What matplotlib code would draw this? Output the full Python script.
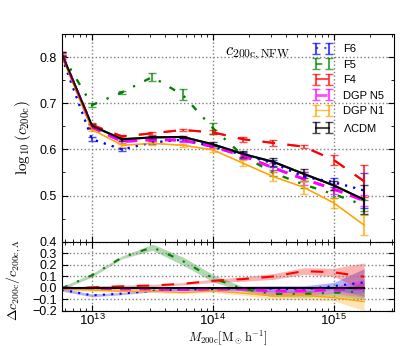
import numpy as np
import matplotlib
matplotlib.use("Agg")
import matplotlib.pyplot as plt
from matplotlib.ticker import MultipleLocator, LogLocator, NullFormatter

plt.rcParams['font.family'] = ['Liberation Sans', 'DejaVu Sans']
plt.rcParams['mathtext.fontset'] = 'custom'
plt.rcParams['mathtext.rm'] = 'Liberation Sans'
plt.rcParams['mathtext.it'] = 'Liberation Sans:italic'
plt.rcParams['mathtext.bf'] = 'Liberation Sans:bold'

# log10 of halo mass bin centres
logM = [12.75, 13.0, 13.25, 13.5, 13.75, 14.0, 14.25, 14.5, 14.75, 15.0, 15.25]

labels = ["F6", "F5", "F4", "DGP N5", "DGP N1", r"$\Lambda$CDM"]

f6 = [0.800, 0.622, 0.600, 0.615, 0.621, 0.606, 0.588, 0.570, 0.541, 0.529, 0.511]
f5 = [0.806, 0.696, 0.724, 0.757, 0.718, 0.646, 0.586, 0.549, 0.524, 0.503, 0.479]
f4 = [0.804, 0.653, 0.628, 0.635, 0.642, 0.637, 0.622, 0.614, 0.606, 0.577, 0.531]
n5 = [0.807, 0.648, 0.617, 0.621, 0.620, 0.606, 0.586, 0.560, 0.536, 0.514, 0.489]
n1 = [0.803, 0.643, 0.609, 0.613, 0.609, 0.599, 0.570, 0.541, 0.518, 0.484, 0.436]
lcdm = [0.807, 0.651, 0.622, 0.626, 0.627, 0.611, 0.590, 0.573, 0.547, 0.522, 0.491]

f6_err = [0.004, 0.004, 0.003, 0.003, 0.003, 0.004, 0.006, 0.008, 0.010, 0.010, 0.038]
f5_err = [0.004, 0.004, 0.003, 0.008, 0.012, 0.012, 0.006, 0.007, 0.008, 0.008, 0.012]
f4_err = [0.004, 0.004, 0.003, 0.003, 0.003, 0.004, 0.005, 0.006, 0.004, 0.010, 0.035]
n5_err = [0.004, 0.004, 0.003, 0.003, 0.003, 0.004, 0.006, 0.010, 0.014, 0.010, 0.012]
n1_err = [0.004, 0.004, 0.003, 0.003, 0.003, 0.004, 0.006, 0.010, 0.014, 0.010, 0.021]
lcdm_err = [0.004, 0.004, 0.003, 0.003, 0.003, 0.004, 0.006, 0.008, 0.010, 0.009, 0.032]

series = [f6, f5, f4, n5, n1, lcdm]
errors = [f6_err, f5_err, f4_err, n5_err, n1_err, lcdm_err]
colors = ['blue', 'green', 'red', 'magenta', 'orange', 'black']
styles = [(0, (1, 3)), (0, (3, 5, 1, 5)), (0, (6, 6)), (0, (4, 3)), '-', '-']
widths = [1.5, 1.5, 1.5, 2.0, 1.0, 1.5]

M = 10 ** np.array(logM)

fig = plt.figure(figsize=(4.15, 3.46), dpi=100)
ax1 = fig.add_axes([0.1494, 0.3014, 0.7996, 0.6003])
ax2 = fig.add_axes([0.1494, 0.1012, 0.7996, 0.2002])

for s, e, c, ls, lw, lab in zip(series, errors, colors, styles, widths, labels):
    ax1.errorbar(M, s, yerr=e, color=c, ls=ls, lw=lw, capsize=3, elinewidth=1.5,
                 capthick=1, alpha=0.7, label=lab)
    ax1.plot(M, s, color=c, ls=ls, lw=lw)

lc = np.array(lcdm)
le = np.array(lcdm_err)
for s, e, c, ls, lw in zip(series, errors, colors, styles, widths):
    s = np.array(s); e = np.array(e)
    ratio = 10 ** (s - lc)
    d = ratio - 1
    if c == 'black':
        ax2.plot(M, d, color=c, ls=ls, lw=lw)
        continue
    band = ratio * np.log(10) * np.sqrt(e ** 2 + le ** 2)
    ax2.fill_between(M, d - band, d + band, color=c, alpha=0.3, lw=0)
    ax2.plot(M, d, color=c, ls=ls, lw=lw)

xl = (10 ** 12.752, 10 ** 15.496)
for ax in (ax1, ax2):
    ax.set_xscale('log')
    ax.set_xlim(*xl)
    ax.tick_params(which='both', direction='in', top=True, right=True, labelsize=9)
    ax.tick_params(which='major', length=4)
    ax.tick_params(which='minor', length=2)
    ax.grid(True, which='major', ls=':', color='grey', lw=1)
    ax.xaxis.set_minor_locator(LogLocator(base=10, subs=np.arange(2, 10), numticks=20))
    ax.xaxis.set_minor_formatter(NullFormatter())
ax2.tick_params(axis='x', which='major', labelsize=9.5, pad=1.5)

ax1.set_ylim(0.4, 0.85)
ax1.yaxis.set_minor_locator(MultipleLocator(0.05))
ax1.set_yticks([0.5, 0.6, 0.7, 0.8])
ax1.tick_params(axis='x', labelbottom=False)
ax1.set_ylabel(r'$\log_{10}(c_{\rm 200c})$', fontsize=11, math_fontfamily='cm')
ax1.yaxis.set_label_coords(-0.088, 0.5)

ax2.set_ylim(-0.2, 0.4)
ax2.yaxis.set_major_locator(MultipleLocator(0.1))
ax2.set_ylabel(r'$\Delta c_{\rm 200c}/c_{\rm 200c,\Lambda}$', fontsize=10, math_fontfamily='cm')
ax2.yaxis.set_label_coords(-0.118, 0.45)
ax2.set_xlabel(r'$M_{\rm 200c}[{\rm M_\odot h^{-1}}]$', fontsize=9, math_fontfamily='cm')
ax2.xaxis.set_label_coords(0.5, -0.255)

ax1.text(0.49, 0.9, r'$c_{\rm 200c,NFW}$', transform=ax1.transAxes, fontsize=12,
         math_fontfamily='cm')
ax1.legend(loc='upper right', frameon=False, fontsize=8, numpoints=2,
           labelspacing=0.5, handlelength=1.8, handletextpad=0.9,
           borderaxespad=0.5)

fig.savefig('out.png', dpi=100)
